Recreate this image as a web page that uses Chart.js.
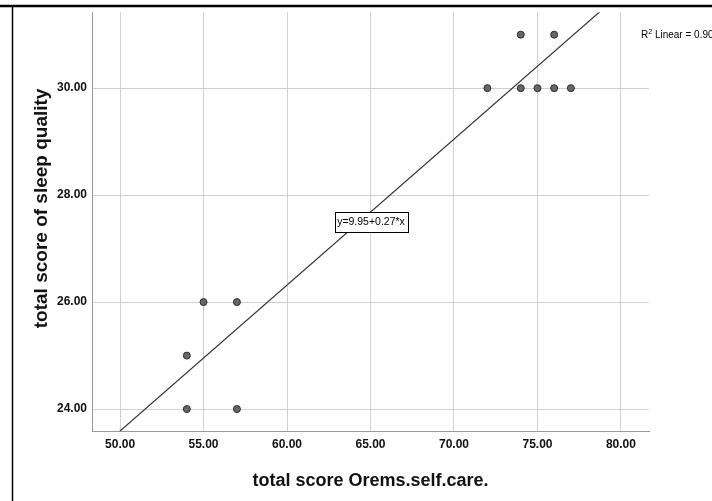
<!DOCTYPE html>
<html>
<head>
<meta charset="utf-8">
<script src="https://cdn.jsdelivr.net/npm/chart.js@4"></script>
<style>
  html, body { margin: 0; padding: 0; background: #fff; }
  #wrap { width: 712px; height: 501px; }
</style>
</head>
<body>
<div id="wrap"><canvas id="scatter" width="712" height="501"></canvas></div>
<script>
// observed cases
const selfCare = [74, 76, 72, 74, 75, 76, 77, 55, 57, 54, 54, 57];
const sleepQuality = [31, 31, 30, 30, 30, 30, 30, 26, 26, 25, 24, 24];

const xTicks = [50, 55, 60, 65, 70, 75, 80];
const yTicks = [24, 26, 28, 30];

// fit line as reported by SPSS
const fitIntercept = 9.95;
const fitSlope = 0.2728;
const fitLabel = 'y=9.95+0.27*x';
const fitLabelAt = { x: 65.03, y: 27.5 };
const rSquaredRest = ' Linear = 0.90';

const xMin = 48.32, xMax = 81.68;
const yMin = 23.59, yMax = 31.42;

const FONT = '"Liberation Sans", Arial, sans-serif';

const fitLine = [xMin, xMax].map(x => ({ x: x, y: fitIntercept + fitSlope * x }));

const notes = {
    id: 'notes',
    beforeDraw(chart) {
        const ctx = chart.ctx;
        ctx.save();
        ctx.fillStyle = '#fff';
        ctx.fillRect(0, 0, chart.width, chart.height);
        ctx.strokeStyle = '#000';
        ctx.lineWidth = 2.5;
        ctx.beginPath();
        ctx.moveTo(0, 6);
        ctx.lineTo(chart.width, 6);
        ctx.stroke();
        ctx.lineWidth = 1.5;
        ctx.beginPath();
        ctx.moveTo(12.5, 5);
        ctx.lineTo(12.5, chart.height);
        ctx.stroke();
        ctx.restore();
    },
    afterDatasetsDraw(chart) {
        const ctx = chart.ctx;
        const x = chart.scales.x, y = chart.scales.y;
        ctx.save();
        // equation box
        ctx.font = '10.5px ' + FONT;
        const w = ctx.measureText(fitLabel).width + 5;
        const h = 20;
        const cx = x.getPixelForValue(fitLabelAt.x);
        const cy = y.getPixelForValue(fitLabelAt.y);
        ctx.fillStyle = '#fff';
        ctx.fillRect(Math.round(cx - w / 2) + 0.5, Math.round(cy - h / 2) + 0.5, Math.round(w), h);
        ctx.strokeStyle = '#000';
        ctx.lineWidth = 1;
        ctx.strokeRect(Math.round(cx - w / 2) + 0.5, Math.round(cy - h / 2) + 0.5, Math.round(w), h);
        ctx.fillStyle = '#000';
        ctx.textAlign = 'center';
        ctx.textBaseline = 'middle';
        ctx.fillText(fitLabel, cx, cy + 0.5);

        // R squared note
        ctx.textAlign = 'left';
        ctx.textBaseline = 'alphabetic';
        ctx.font = '10px ' + FONT;
        let tx = 641;
        ctx.fillText('R', tx, 38);
        tx += ctx.measureText('R').width;
        ctx.font = '7px ' + FONT;
        ctx.fillText('2', tx, 34);
        tx += ctx.measureText('2').width;
        ctx.font = '10px ' + FONT;
        ctx.fillText(rSquaredRest, tx, 38);
        ctx.restore();
    }
};

new Chart(document.getElementById('scatter').getContext('2d'), {
    type: 'scatter',
    data: {
        datasets: [{
            label: 'cases',
            data: selfCare.map((v, i) => ({ x: v, y: sleepQuality[i] })),
            pointRadius: 3.5,
            pointBackgroundColor: '#666',
            pointBorderColor: '#2e2e2e',
            pointBorderWidth: 1
        }, {
            type: 'line',
            label: 'fit',
            data: fitLine,
            borderColor: '#333',
            borderWidth: 1.2,
            pointRadius: 0,
            fill: false
        }]
    },
    options: {
        responsive: false,
        animation: false,
        layout: { padding: { left: 12, top: 12, right: 63, bottom: 0 } },
        plugins: {
            legend: { display: false },
            tooltip: { enabled: false }
        },
        scales: {
            x: {
                type: 'linear',
                min: xMin,
                max: xMax,
                afterBuildTicks: s => { s.ticks = xTicks.map(v => ({ value: v })); },
                afterFit: s => { s.height = 70; },
                grid: { color: '#d0d0d0', drawTicks: false },
                border: { color: '#999' },
                ticks: {
                    padding: 6,
                    color: '#111',
                    maxRotation: 0,
                    autoSkip: false,
                    font: { family: FONT, size: 12, weight: 'bold' },
                    callback: v => Number(v).toFixed(2)
                },
                title: {
                    display: true,
                    text: 'total score Orems.self.care.',
                    color: '#111',
                    font: { family: FONT, size: 18, weight: 'bold' },
                    padding: { top: 0, bottom: 9 }
                }
            },
            y: {
                type: 'linear',
                min: yMin,
                max: yMax,
                afterBuildTicks: s => { s.ticks = yTicks.map(v => ({ value: v })); },
                afterFit: s => { s.width = 80; },
                grid: { color: '#d0d0d0', drawTicks: false },
                border: { color: '#999' },
                ticks: {
                    padding: 5,
                    color: '#111',
                    font: { family: FONT, size: 12, weight: 'bold' },
                    callback: v => Number(v).toFixed(2)
                },
                title: {
                    display: true,
                    // leading spaces nudge the centred title up, as in the original
                    text: '     total score of sleep quality',
                    color: '#111',
                    font: { family: FONT, size: 19, weight: 'bold' },
                    padding: { top: 18, bottom: 0 }
                }
            }
        }
    },
    plugins: [notes]
});
</script>
</body>
</html>
